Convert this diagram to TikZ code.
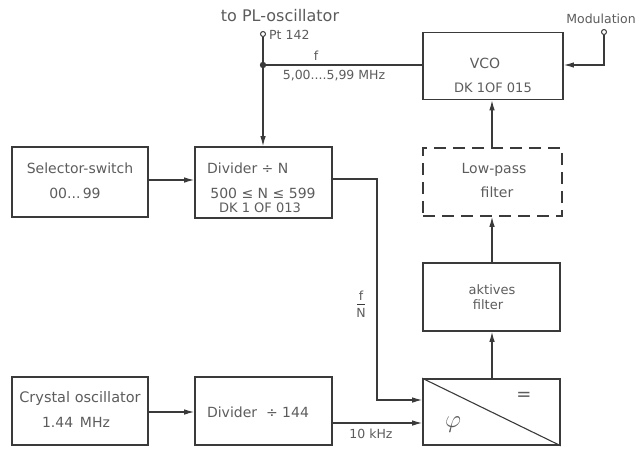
\documentclass[tikz,border=0pt]{standalone}
\usepackage{fontspec}
\setmainfont{DejaVu Sans}
\usetikzlibrary{arrows.meta}
\definecolor{ln}{HTML}{3A3A3A}
\definecolor{tx}{HTML}{5C5C5C}
\begin{document}
\begin{tikzpicture}[x=1pt,y=-1pt,
  box/.style={draw=ln,line width=1.6pt,rectangle,minimum width=#1,inner sep=0pt},
  blk/.style={box=137pt,minimum height=68pt},
  lbl/.style={text=tx,font=\fontsize{14}{16}\selectfont,inner sep=0pt,align=center},
  small/.style={text=tx,font=\fontsize{12.5}{14}\selectfont,inner sep=0pt},
  conn/.style={draw=ln,line width=1.1pt},
  arr/.style={conn,-{Latex[length=10pt,width=5.5pt]}},
  term/.style={circle,draw=ln,line width=1pt,minimum size=5pt,inner sep=0pt}]
\useasboundingbox (0,0) rectangle (639,448);
% boxes
\node[blk,minimum width=136pt,minimum height=70pt] (sel) at (80,182) {};
\node[blk,minimum height=71pt] (divn) at (263.5,182.5) {};
\node[blk,minimum width=136pt,minimum height=68pt] (xtal) at (80,411) {};
\node[blk,minimum height=68pt] (div144) at (263.5,411) {};
\node[blk,minimum width=140pt,minimum height=67pt] (vco) at (493,66) {};
\node[blk,minimum width=139pt,dashed,dash pattern=on 12pt off 7pt] (lpf) at (492.5,182) {};
\node[blk] (akt) at (491.5,297) {};
\node[blk,minimum height=66pt] (pd) at (491.5,412) {};
\draw[conn] (pd.north west) -- (pd.south east);
% texts
\node[lbl] at (80,168) {Selector-switch};
\node[lbl] at (75,193) {00...\,99};
\node[lbl,anchor=west] at (207,168) {Divider ÷ N};
\node[lbl] at (263,193) {500 ≤ N ≤ 599};
\node[lbl,font=\fontsize{13}{15}\selectfont] at (260,208) {DK 1 OF 013};
\node[lbl,font=\fontsize{14.5}{16}\selectfont] at (80,398) {Crystal oscillator};
\node[lbl] at (76,422) {1.44 \,MHz};
\node[lbl] at (258,412) {Divider \ ÷ 144};
\node[lbl] at (485,63) {VCO};
\node[lbl,font=\fontsize{13}{15}\selectfont] at (493,88) {DK 1OF 015};
\node[lbl] at (494,170) {Low-pass};
\node[lbl] at (497,192) {filter};
\node[lbl,font=\fontsize{13}{15}\selectfont] at (492,290) {aktives};
\node[lbl,font=\fontsize{13}{15}\selectfont] at (488,305) {filter};
\node[text=tx,font=\fontsize{23}{23}\selectfont,inner sep=0pt] at (453,425) {$\varphi$};
\node[text=tx,font=\fontsize{18}{18}\selectfont,inner sep=0pt] at (524,396) {=};
\node[lbl,font=\fontsize{16}{18}\selectfont] at (280,16) {to PL-oscillator};
\node[small] at (601,19) {Modulation};
% terminals
\node[term] (plo) at (263,34) {};
\node[small,anchor=west] at (269,35) {Pt 142};
\node[term] (mod) at (604,32) {};
\coordinate (jn) at (263,65);
\fill[ln] (jn) circle (3.2pt);
\node[small] at (316,56) {f};
\node[small] at (334,76) {5,00....5,99 MHz};
% connectors
\draw[conn] (vco.west |- jn) -- (jn);
\draw[conn] (plo) -- (jn);
\draw[arr] (jn) -- (divn.north -| jn);
\draw[arr] (mod) |- (vco.east |- 0,65);
\draw[arr] (lpf.north -| 492,0) -- (vco.south -| 492,0);
\draw[arr] (akt.north -| 492,0) -- (lpf.south -| 492,0);
\draw[arr] (pd.north -| 492,0) -- (akt.south -| 492,0);
\draw[arr] (sel.east |- 0,180) -- (divn.west |- 0,180);
\draw[arr] (xtal.east |- 0,412) -- (div144.west |- 0,412);
\coordinate (bend1) at (377,179);
\coordinate (bend2) at (377,400);
\draw[arr] (divn.east |- bend1) -- (bend1) -- (bend2) -- (pd.west |- bend2);
\draw[arr] (div144.east |- 0,423) -- (pd.west |- 0,423);
\node[small] at (371,434) {10 kHz};
\node[small] (fn) at (361,296) {f};
\node[small] at (361,313) {N};
\draw[conn,line width=0.9pt] (357,304) -- (365,304);
\end{tikzpicture}
\end{document}
